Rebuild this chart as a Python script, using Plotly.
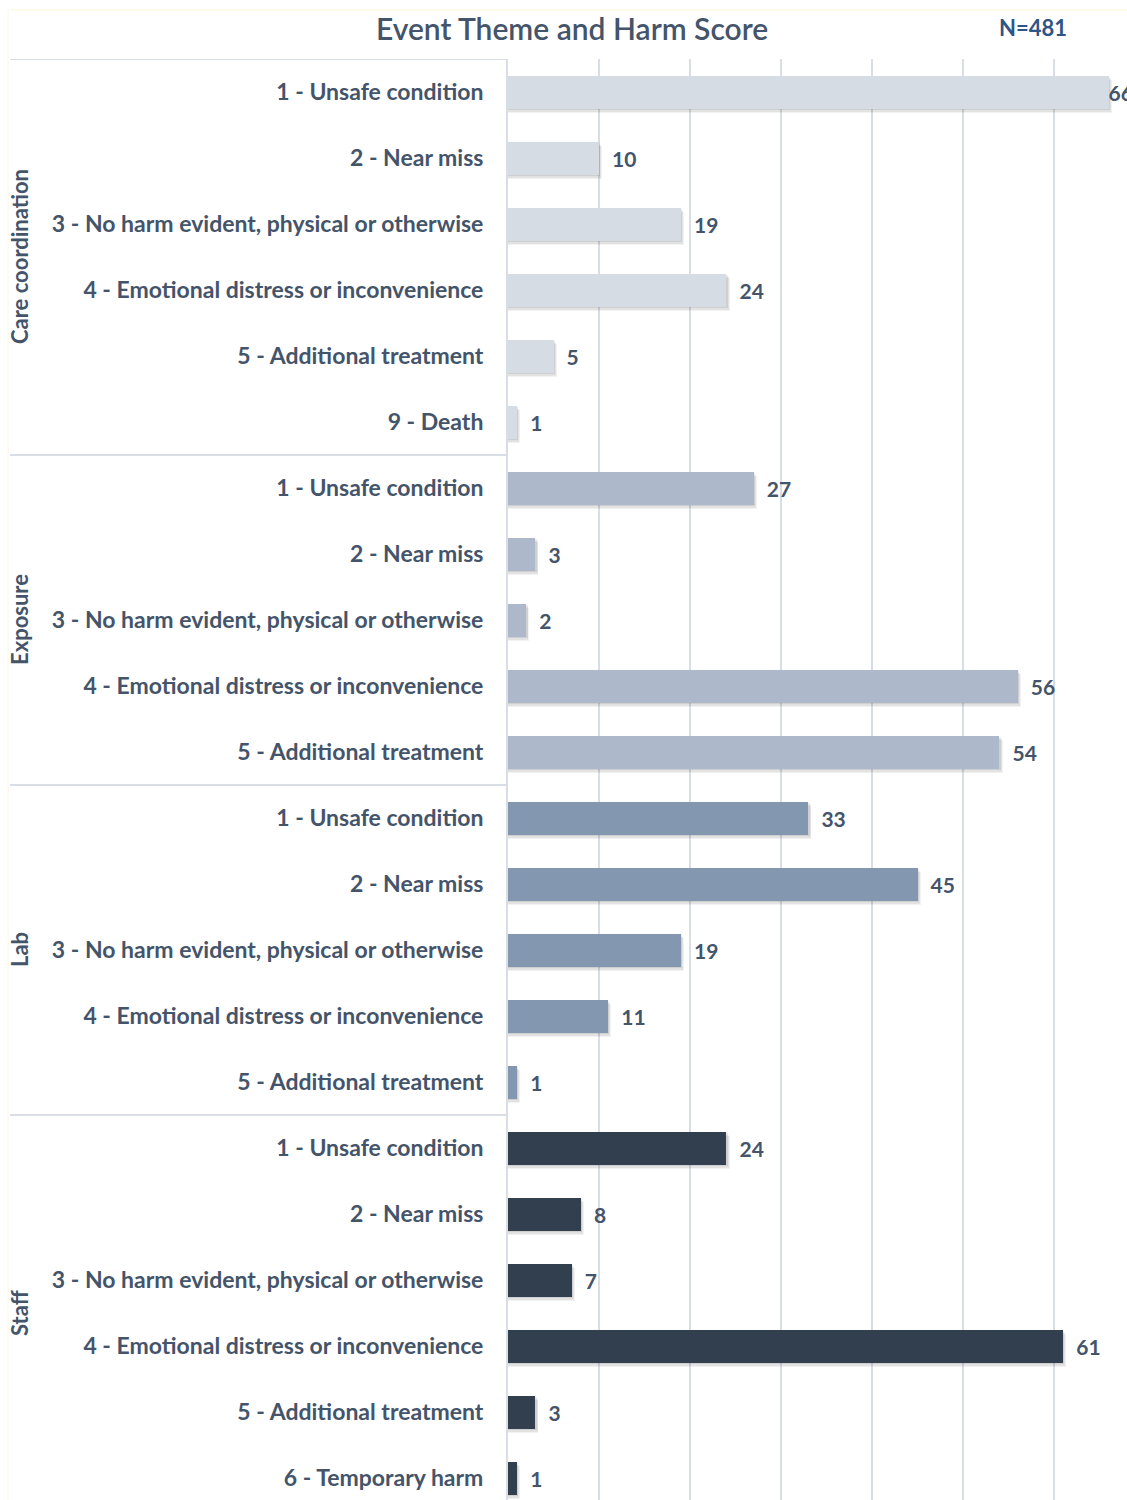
import plotly.graph_objects as go

# Event themes with their harm-score categories and event counts
themes = ["Care coordination", "Exposure", "Lab", "Staff"]
theme_colors = ["#D5DCE4", "#ADB9CA", "#8497B0", "#323F4F"]

care_labels = ["1 - Unsafe condition", "2 - Near miss", "3 - No harm evident, physical or otherwise",
               "4 - Emotional distress or inconvenience", "5 - Additional treatment", "9 - Death"]
care_values = [66, 10, 19, 24, 5, 1]

exposure_labels = ["1 - Unsafe condition", "2 - Near miss", "3 - No harm evident, physical or otherwise",
                   "4 - Emotional distress or inconvenience", "5 - Additional treatment"]
exposure_values = [27, 3, 2, 56, 54]

lab_labels = ["1 - Unsafe condition", "2 - Near miss", "3 - No harm evident, physical or otherwise",
              "4 - Emotional distress or inconvenience", "5 - Additional treatment"]
lab_values = [33, 45, 19, 11, 1]

staff_labels = ["1 - Unsafe condition", "2 - Near miss", "3 - No harm evident, physical or otherwise",
                "4 - Emotional distress or inconvenience", "5 - Additional treatment", "6 - Temporary harm"]
staff_values = [24, 8, 7, 61, 3, 1]

total_n = 481

groups = [(care_labels, care_values), (exposure_labels, exposure_values),
          (lab_labels, lab_values), (staff_labels, staff_values)]

TEXT = "#44546A"
GRID = "#D9DEE6"
FONT = "Lato"

W, H = 1127, 1500
LEFT, TOP = 508, 59
ROW_PX = 66
PX_PER_UNIT = 9.1
plot_w = W - LEFT
plot_h = H - TOP
n_rows_visible = plot_h / ROW_PX
x_max = plot_w / PX_PER_UNIT

fig = go.Figure()

tickvals, ticktext = [], []
group_spans = []
row = 0
for (labels, values), color in zip(groups, theme_colors):
    pos = list(range(row, row + len(values)))
    group_spans.append((pos[0], pos[-1]))
    tickvals += pos
    ticktext += labels
    # soft drop shadow behind each bar, built from a few faint layers
    for dx, dy, w, a in [(0.35, 0.07, 0.5, 0.06), (0.25, 0.05, 0.5, 0.08), (0.15, 0.03, 0.5, 0.10)]:
        fig.add_trace(go.Bar(
            x=[v + dx for v in values], y=[p + dy for p in pos], orientation="h",
            width=w, marker=dict(color=f"rgba(40,40,40,{a})", line=dict(width=0)),
            hoverinfo="skip", showlegend=False))
    fig.add_trace(go.Bar(
        x=values, y=pos, orientation="h", width=0.5,
        marker=dict(color=color, line=dict(width=0)),
        showlegend=False))
    # value labels at the bar ends; labels near the right edge hug the bar
    fig.add_trace(go.Scatter(
        x=values, y=[p + 0.06 for p in pos], mode="text",
        text=[("" if v > x_max - 4 else "\u2002\u2009") + str(v) for v in values],
        textposition="middle right", cliponaxis=False,
        textfont=dict(family=FONT, size=21, color=TEXT, weight=700),
        hoverinfo="skip", showlegend=False))
    row += len(values)

shapes = []
x_left_paper = (10 - LEFT) / plot_w
# group separators in the label column
for b in [-0.5] + [s[1] + 0.5 for s in group_spans[:-1]]:
    shapes.append(dict(type="line", xref="paper", yref="y", x0=x_left_paper, x1=0,
                       y0=b, y1=b, line=dict(color=GRID, width=2)))
# thin frame edges
top_y = 1 + (TOP - 10) / plot_h
shapes.append(dict(type="line", xref="paper", yref="paper", x0=x_left_paper, x1=1.1,
                   y0=top_y, y1=top_y, line=dict(color="#FBF6D8", width=1)))
shapes.append(dict(type="line", xref="paper", yref="paper", x0=(8 - LEFT) / plot_w,
                   x1=(8 - LEFT) / plot_w, y0=0, y1=top_y, line=dict(color="#FBF8E4", width=1)))

annotations = []
for name, (a, b) in zip(themes, group_spans):
    annotations.append(dict(text=name, xref="paper", yref="y", x=(19 - LEFT) / plot_w,
                            y=(a + b) / 2, textangle=-90, showarrow=False,
                            xanchor="center", yanchor="middle",
                            font=dict(family=FONT, size=22, color=TEXT, weight=700)))
annotations.append(dict(text="Event Theme and Harm Score", xref="paper", yref="paper",
                        x=(572 - LEFT) / plot_w, y=1 + (TOP - 28) / plot_h,
                        showarrow=False, xanchor="center", yanchor="middle",
                        font=dict(family=FONT, size=30, color=TEXT, weight=600)))
annotations.append(dict(text=f"N={total_n}", xref="paper", yref="paper",
                        x=(1033 - LEFT) / plot_w, y=1 + (TOP - 27) / plot_h,
                        showarrow=False, xanchor="center", yanchor="middle",
                        font=dict(family=FONT, size=22, color="#2F5487", weight=700)))

fig.update_layout(
    width=W, height=H,
    margin=dict(l=LEFT, r=0, t=TOP, b=0, pad=0),
    barmode="overlay",
    plot_bgcolor="white", paper_bgcolor="white",
    bargap=0,
    shapes=shapes, annotations=annotations,
    xaxis=dict(range=[0, x_max], dtick=10, showgrid=True, gridcolor=GRID,
               gridwidth=2, showticklabels=False, zeroline=False, showline=False, fixedrange=True),
    yaxis=dict(range=[n_rows_visible - 0.5, -0.5], tickvals=tickvals, ticktext=ticktext,
               showgrid=False, zeroline=False, showline=True, linecolor=GRID, linewidth=2,
               ticks="outside", ticklen=18, tickcolor="rgba(0,0,0,0)",
               tickfont=dict(family=FONT, size=23, color=TEXT, weight=700), fixedrange=True),
)

fig.write_html("out.html")
